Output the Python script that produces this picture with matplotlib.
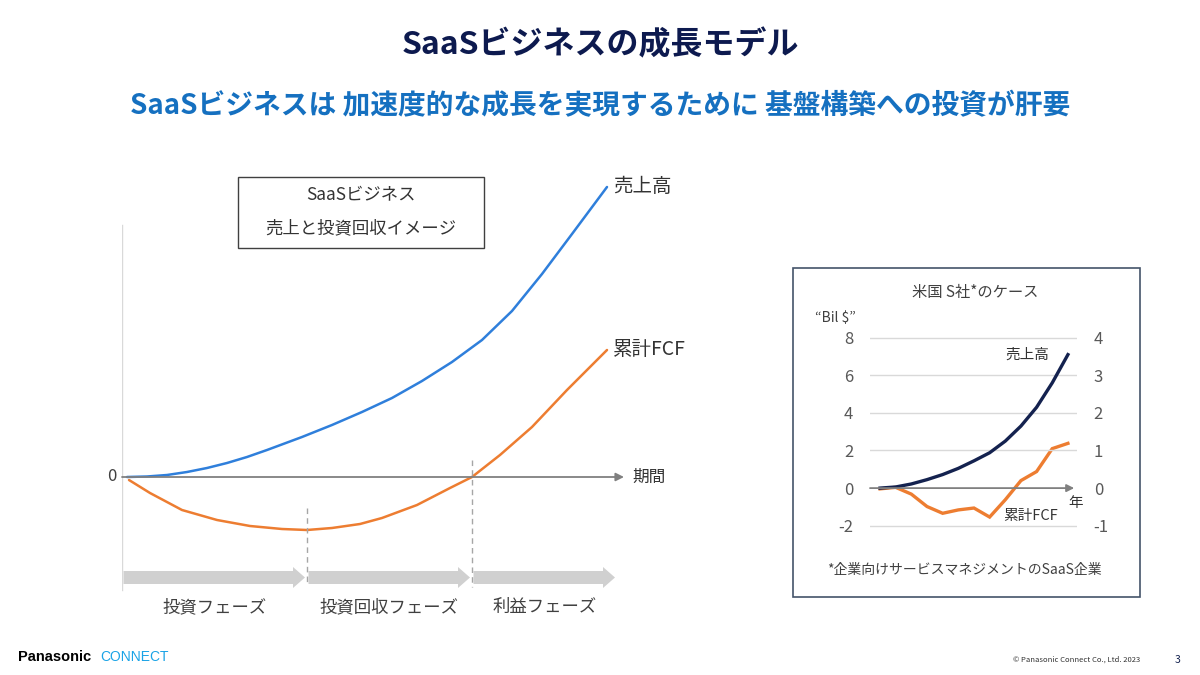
import matplotlib
matplotlib.use('Agg')
import matplotlib.pyplot as plt
from matplotlib.patches import Rectangle, FancyArrow

plt.rcParams['font.family'] = ['Noto Sans CJK JP', 'DejaVu Sans']
plt.rcParams['axes.unicode_minus'] = False

# 左: 概念図 (期間 0-100, 任意単位)
concept_t_sales = [1, 5, 9, 13, 17, 21, 25, 29, 36, 42, 48, 54, 60, 66, 72, 78, 84, 90, 97]
concept_sales = [0, 0.05, 0.2, 0.5, 0.9, 1.4, 2.0, 2.7, 4.0, 5.2, 6.5, 7.9, 9.6,
                 11.5, 13.7, 16.6, 20.3, 24.3, 29.0]
concept_t_fcf = [1.4, 5.6, 12, 19, 25.6, 32, 37, 42, 47.6, 52, 59, 65.6, 70, 75.6, 82, 89, 97]
concept_fcf = [-0.3, -1.6, -3.3, -4.3, -4.9, -5.2, -5.3, -5.1, -4.7, -4.1, -2.8, -1.1,
               0.0, 2.2, 5.0, 8.7, 12.7]
phase_names = ['投資フェーズ', '投資回収フェーズ', '利益フェーズ']
phase_bounds = [0, 37, 70, 99]

# 右: 米国 S社の実績 (Bil $)
years = list(range(13))
sales = [0.0, 0.06, 0.22, 0.45, 0.72, 1.05, 1.45, 1.88, 2.5, 3.3, 4.3, 5.6, 7.1]
cum_fcf = [-0.02, 0.02, -0.16, -0.49, -0.67, -0.58, -0.53, -0.77, -0.31, 0.2, 0.44, 1.05, 1.19]
left_ticks = [-2, 0, 2, 4, 6, 8]
right_ticks = [-1, 0, 1, 2, 3, 4]

BLUE = '#2f7fdb'
ORANGE = '#ed7d31'
NAVY = '#14224f'
GRAY = '#595959'

W, H = 1200, 675
fig = plt.figure(figsize=(12, 6.75), dpi=100)


def fx(px):
    return px / W


def fy(py):
    return 1 - py / H


# タイトル
fig.text(0.5, fy(45), 'SaaSビジネスの成長モデル', ha='center', va='center',
         fontsize=23, fontweight='bold', color='#0d1a4f')
fig.text(0.5, fy(106), 'SaaSビジネスは 加速度的な成長を実現するために 基盤構築への投資が肝要',
         ha='center', va='center', fontsize=20, fontweight='bold', color='#1570c0')

# ---- 左の概念図 ----
ax = fig.add_axes([fx(122), fy(600), 500 / W, 440 / H])
ax.set_xlim(0, 100)
ax.set_ylim(-12.3, 31.7)
ax.axis('off')

ax.plot([0, 0], [-11.3, 25.2], color='#d9d9d9', lw=1)
ax.annotate('', xy=(100.4, 0), xytext=(0, 0), annotation_clip=False,
            arrowprops=dict(arrowstyle='-|>', color='#808080', lw=1.3,
                            mutation_scale=12, shrinkA=0, shrinkB=0))
ax.plot(concept_t_sales, concept_sales, color=BLUE, lw=1.8, solid_capstyle='round')
ax.plot(concept_t_fcf, concept_fcf, color=ORANGE, lw=1.8, solid_capstyle='round')

ax.plot([phase_bounds[1]] * 2, [-3.1, -10.8], color='#a6a6a6', lw=1, ls=(0, (4, 3)))
ax.plot([phase_bounds[2]] * 2, [1.7, -11.0], color='#a6a6a6', lw=1, ls=(0, (4, 3)))

for i, name in enumerate(phase_names):
    x0 = phase_bounds[i] + 0.3
    x1 = phase_bounds[i + 1] - 0.4
    ax.add_patch(FancyArrow(x0, -10.05, x1 - x0, 0, width=1.3, head_width=2.1,
                            head_length=2.4, length_includes_head=True,
                            color='#d0d0d0', lw=0))
    ax.text((x0 + x1) / 2, -13.0, name, ha='center', va='center',
            fontsize=12.5, color='#404040')

ax.text(concept_t_sales[-1] + 1.2, concept_sales[-1], '売上高', ha='left',
        va='center', fontsize=14, color='#333333')
ax.text(concept_t_fcf[-1] + 1.2, concept_fcf[-1], '累計FCF', ha='left',
        va='center', fontsize=14, color='#333333')
ax.text(102, 0, '期間', ha='left', va='center', fontsize=12, color='#333333')
ax.text(-1.0, 0, '0', ha='right', va='center', fontsize=12, color='#404040')

fig.patches.append(Rectangle((fx(238), fy(248)), 246 / W, 71 / H,
                             transform=fig.transFigure, fill=False,
                             edgecolor='#404040', lw=1))
fig.text(fx(361), fy(195), 'SaaSビジネス', ha='center', va='center',
         fontsize=12.5, color='#333333')
fig.text(fx(361), fy(228), '売上と投資回収イメージ', ha='center', va='center',
         fontsize=12.5, color='#333333')

# ---- 右の実績グラフ ----
fig.patches.append(Rectangle((fx(793), fy(597)), 347 / W, 329 / H,
                             transform=fig.transFigure, fill=False,
                             edgecolor='#44546a', lw=1.2))
fig.text(fx(975), fy(293), '米国 S社*のケース', ha='center', va='center',
         fontsize=11, color='#404040')
fig.text(fx(835), fy(318), '“Bil $”', ha='center', va='center',
         fontsize=10, color='#404040')
fig.text(fx(964), fy(570), '*企業向けサービスマネジメントのSaaS企業', ha='center',
         va='center', fontsize=10, color='#404040')

ax2 = fig.add_axes([fx(870), fy(535.1), 207 / W, 206.8 / H])
ax2.set_xlim(-0.64, 12.58)
ax2.set_ylim(-2.5, 8.5)
for s in ax2.spines.values():
    s.set_visible(False)
ax2.set_xticks([])
ax2.set_yticks(left_ticks)
ax2.tick_params(axis='y', length=0, pad=12, labelsize=12, labelcolor=GRAY)
for v in left_ticks:
    if v != 0:
        ax2.axhline(v, color='#d9d9d9', lw=1, zorder=0)
ax2.annotate('', xy=(12.4, 0), xytext=(-0.64, 0), annotation_clip=False,
             arrowprops=dict(arrowstyle='-|>', color='#808080', lw=1.3,
                             mutation_scale=11, shrinkA=0, shrinkB=0))

ax3 = ax2.twinx()
ax3.set_ylim(-1.25, 4.25)
for s in ax3.spines.values():
    s.set_visible(False)
ax3.set_yticks(right_ticks)
ax3.tick_params(axis='y', length=0, pad=12, labelsize=12, labelcolor=GRAY)

ax3.plot(years, cum_fcf, color=ORANGE, lw=2.4, solid_joinstyle='miter')
ax2.set_zorder(ax3.get_zorder() + 1)
ax2.patch.set_visible(False)
ax2.plot(years, sales, color=NAVY, lw=2.4)

ax2.text(8.0, 7.1, '売上高', ha='left', va='center', fontsize=10.5, color='#333333')
ax2.text(7.9, -1.5, '累計FCF', ha='left', va='center', fontsize=10.5, color='#333333')
ax2.text(12.5, -0.8, '年', ha='center', va='center', fontsize=10.5, color='#333333')

# フッター
fig.text(fx(18), fy(657), 'Panasonic', ha='left', va='center', fontsize=10.5,
         fontweight='bold', family=['Liberation Sans', 'DejaVu Sans'], color='black')
fig.text(fx(100), fy(657), 'CONNECT', ha='left', va='center', fontsize=10,
         family=['Liberation Sans', 'DejaVu Sans'], color='#1aa3e6')
fig.text(fx(1013), fy(660), '© Panasonic Connect Co., Ltd. 2023', ha='left',
         va='center', fontsize=5.5, color='#333333')
fig.text(fx(1178), fy(660), '3', ha='center', va='center', fontsize=7.5, color=NAVY)

fig.savefig('out.png', dpi=100)
